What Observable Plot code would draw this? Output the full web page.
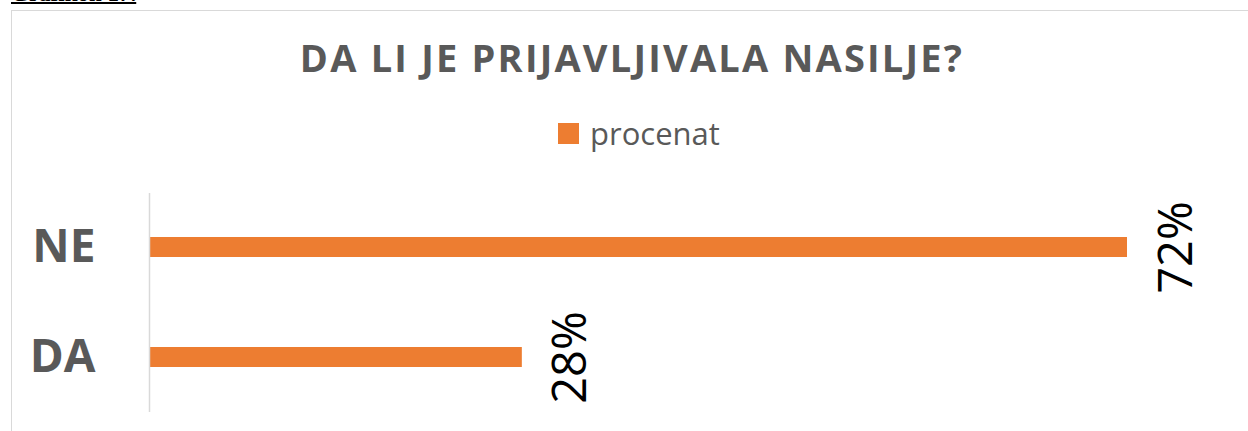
<!DOCTYPE html>
<html>
<head>
<meta charset="utf-8">
<script src="https://cdn.jsdelivr.net/npm/d3@7"></script>
<script src="https://cdn.jsdelivr.net/npm/@observablehq/plot@0.6"></script>
<style>
  html, body { margin: 0; padding: 0; background: #fff; width: 1248px; height: 431px; overflow: hidden; position: relative; }
  #hdr { position: absolute; left: 11px; top: -19px; font-family: "Liberation Serif", serif; font-weight: bold; font-size: 23px; text-decoration: underline; text-decoration-thickness: 2px; color: #000; white-space: nowrap; }
  #box { position: absolute; left: 11px; top: 10px; width: 1300px; height: 500px; border: 1.5px solid #d9d9d9; box-sizing: border-box; }
  #title { position: absolute; left: 0; width: 1264px; top: 30.5px; text-align: center; font-family: "Open Sans", sans-serif; font-weight: bold; font-size: 38px; letter-spacing: 2.2px; color: #595959; white-space: nowrap; }
  #legend { position: absolute; left: 558px; top: 112px; font-family: "Open Sans", sans-serif; font-size: 31px; color: #595959; white-space: nowrap; display: flex; align-items: center; }
  #legend .sw { width: 21px; height: 21px; background: #ed7d31; margin-right: 11px; }
  #chart { position: absolute; left: 0; top: 0; }
</style>
</head>
<body>
<div id="hdr">Grafikon 17.</div>
<div id="box"></div>
<div id="title">DA LI JE PRIJAVLJIVALA NASILJE?</div>
<div id="legend"><div class="sw"></div><span id="legtext"></span></div>
<div id="chart"></div>
<script>
const categories = ["NE", "DA"];
const values = [72.4, 27.6];
const seriesName = "procenat";
const barColor = "#ed7d31";

document.getElementById("legtext").textContent = seriesName;

const data = categories.map((c, i) => ({cat: c, value: values[i]}));

const chart = Plot.plot({
  width: 1248,
  height: 431,
  marginLeft: 149,
  marginRight: 121,
  marginTop: 193,
  marginBottom: 19,
  style: {background: "transparent", overflow: "visible"},
  x: {domain: [0, d3.max(values)], axis: null},
  y: {domain: categories, paddingInner: 0.818, paddingOuter: 0.4, label: null},
  marks: [
    Plot.barX(data, {x: "value", y: "cat", fill: barColor}),
    Plot.ruleX([0], {stroke: "#d9d9d9", strokeWidth: 1.5}),
    Plot.axisY({tickSize: 0, tickPadding: 54, fontSize: 46, fontWeight: "bold", fill: "#595959", fontFamily: "Open Sans", label: null}),
    Plot.text(data, {x: "value", y: "cat", text: d => Math.round(d.value) + "%", rotate: -90, textAnchor: "middle", lineAnchor: "bottom", dx: 64, fontSize: 47, fill: "#000", fontFamily: "Open Sans"})
  ]
});
document.getElementById("chart").appendChild(chart);
</script>
</body>
</html>
